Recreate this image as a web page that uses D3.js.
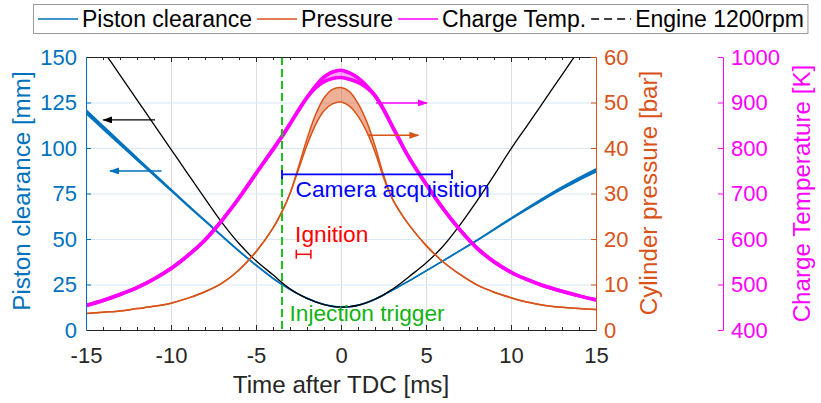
<!DOCTYPE html>
<html><head><meta charset="utf-8">
<script src="https://cdn.jsdelivr.net/npm/d3@7"></script>
<style>body{margin:0;background:#fff}svg{display:block}</style>
</head><body><svg id="c" width="821" height="403"></svg>
<script>
// ---------- data ----------
const timeMs = [-15,-14,-13,-12,-11,-10,-9,-8,-7,-6,-5,-4,
  -3.5,-3,-2.5,-2,-1.5,-1,-0.5,0,0.5,1,1.5,2,2.5,3,3.5,
  4,5,6,7,8,9,10,11,12,13,14,15];
const clearanceMm = [120,111.3,102.6,94,85.4,76.9,68.4,60,51.6,43.4,35.6,28.4,
  25.2,22.3,19.7,17.4,15.5,14,13,12.6,12.8,13.6,15,16.9,19.2,21.8,24.4,
  27,32.5,38,43.6,49.3,55.2,61.2,67,72.6,78,83,87.7];
const clearanceSpread = [1.0,0.9,0.8,0.65,0.5,0.4,0.3,0.2,0.1,0.05,0,0,
  0,0,0,0,0,0,0,0,0,0,0,0,0,0,0,
  0,0,0,0,0.1,0.2,0.3,0.4,0.5,0.6,0.7,0.8];
const engineMm = [167.2,153.6,140.1,126.5,112.9,99.3,85.7,72.2,59.0,47.5,38.0,30.3,
  26.2,22.6,19.7,17.4,15.5,14,13,12.6,12.8,13.6,15,16.9,19.3,22.3,25.6,
  29.3,36.8,46,57.8,71,85,99.5,113,126.6,140.2,153.8,167.4];
const pressureBar = [3.6,3.9,4.2,4.7,5.2,5.9,7.0,8.4,10.3,13.2,17.2,22.4,
  25.8,30.0,35.6,41.3,46.2,49.6,51.3,51.7,50.8,48.4,44.8,39.8,33.8,29.0,25.8,
  23.1,18.6,15.0,12.2,9.9,8.3,7.1,6.1,5.4,5.0,4.7,4.5];
const pressureSpread = [0,0,0,0,0,0,0,0,0,0,0,0,
  0,0,0.3,0.7,1.1,1.4,1.6,1.6,1.6,1.4,1.1,0.7,0.3,0,0,
  0,0,0,0,0,0,0,0,0,0,0,0];
const tempK = [454,465,478,493,512,535,564,598,641,690,744,797,
  824,853,883,911,934,951,960,963,958,949,935,915,885,849,813,
  779,721,667,620,580,550,527,510,496,485,475,466];
const tempSpread = [0,0,0,0,0,0,0,0,0,0,0,0,
  0,0,0,0,2,5,7,8,7,5,2,0,0,0,0,
  0,0,0,0,0,0,0,0,0,0,0,0];

const xTicks = [-15,-10,-5,0,5,10,15];
const xMinorTicks = [-14,-13,-12,-11,-9,-8,-7,-6,-4,-3,-2,-1,1,2,3,4,6,7,8,9,11,12,13,14];
const clearanceTicks = [0,25,50,75,100,125,150];
const pressureTicks = [0,10,20,30,40,50,60];
const tempTicks = [400,500,600,700,800,900,1000];
const legendLabels = ["Piston clearance","Pressure","Charge Temp.","Engine 1200rpm"];

const injectionMs = -3.47;
const cameraWindowMs = [-3.47, 6.53], cameraLevelMm = 85.5;
const ignitionWindowMs = [-2.63, -1.77], ignitionLevelMm = 41.6;
const labelCamera = {text:"Camera acquisition", t:-2.67, v:73.2};
const labelIgnition = {text:"Ignition", t:-2.7, v:48.4};
const labelInjection = {text:"Injection trigger", t:-3.03, v:4.9};
// arrows: [tail time, head time, level]
const arrowEngine = [-10.94, -13.98, 115.4];     // clearance units
const arrowClearance = [-10.55, -13.59, 87.4];   // clearance units
const arrowTemp = [2.06, 5.06, 899];             // K
const arrowPressure = [1.57, 4.55, 42.8];        // bar

// ---------- setup ----------
const FONT = '"Liberation Sans", Arial, Helvetica, sans-serif';
const BLUE = "#0072BD", ORANGE = "#D95319", MAGENTA = "#FF00FF", AXC = "#262626";
const svg = d3.select("#c").attr("font-family", FONT);
const fmt = d => String(d);

const x = d3.scaleLinear().domain([-15,15]).range([86,596]);
const yL = d3.scaleLinear().domain([0,150]).range([330,57]);
const yP = d3.scaleLinear().domain([0,60]).range([330,57]);
const yT = d3.scaleLinear().domain([400,1000]).range([330,57]);

const rows = timeMs.map((t,i)=>({t, c:clearanceMm[i], cs:clearanceSpread[i], e:engineMm[i],
  p:pressureBar[i], ps:pressureSpread[i], T:tempK[i], Ts:tempSpread[i]}));

// grid
const grid = svg.append("g");
grid.selectAll("line.v").data(xTicks.filter(d=>d>-15&&d<15)).join("line")
  .attr("x1",d=>x(d)+0.5).attr("x2",d=>x(d)+0.5).attr("y1",yL(0)).attr("y2",yL(150))
  .attr("stroke","#dedede").attr("stroke-width",1);
grid.selectAll("line.h").data(clearanceTicks.filter(d=>d>0&&d<150)).join("line")
  .attr("x1",x(-15)).attr("x2",x(15)).attr("y1",d=>yL(d)+0.5).attr("y2",d=>yL(d)+0.5)
  .attr("stroke","#d6e8f5").attr("stroke-width",1);

// clip
svg.append("defs").append("clipPath").attr("id","pc").append("rect")
  .attr("x",x(-15)).attr("y",yL(150)).attr("width",x(15)-x(-15)).attr("height",yL(0)-yL(150));
const plot = svg.append("g").attr("clip-path","url(#pc)");

const CURVE = d3.curveCatmullRom.alpha(0.5);
function band(scale, vk, sk, color, width, fo){
  const area = d3.area().x(d=>x(d.t)).y0(d=>scale(d[vk]-d[sk])).y1(d=>scale(d[vk]+d[sk])).curve(CURVE);
  plot.append("path").datum(rows).attr("d",area).attr("fill",color).attr("fill-opacity",fo);
  [1,-1].forEach(s=>{
    const ln = d3.line().x(d=>x(d.t)).y(d=>scale(d[vk]+s*d[sk])).curve(CURVE);
    plot.append("path").datum(rows).attr("d",ln).attr("fill","none").attr("stroke",color).attr("stroke-width",width);
  });
}
band(yL,"c","cs",BLUE,1.6,1);
plot.append("path").datum(rows)
  .attr("d",d3.line().x(d=>x(d.t)).y(d=>yL(d.e)).curve(CURVE))
  .attr("fill","none").attr("stroke","#000").attr("stroke-width",1.3);
band(yP,"p","ps",ORANGE,1.5,0.45);
band(yT,"T","Ts",MAGENTA,3.6,0.35);

// injection trigger line
plot.append("line").attr("x1",x(injectionMs)).attr("x2",x(injectionMs)).attr("y1",yL(150)).attr("y2",yL(0))
  .attr("stroke","#1fbf1f").attr("stroke-width",2).attr("stroke-dasharray","8,4");

// error bars
function hbar(win, level, color, w){
  const g = svg.append("g").attr("stroke",color).attr("stroke-width",w);
  const yy = yL(level);
  g.append("line").attr("x1",x(win[0])).attr("x2",x(win[1])).attr("y1",yy).attr("y2",yy);
  win.forEach(t=>g.append("line").attr("x1",x(t)).attr("x2",x(t)).attr("y1",yy-4.5).attr("y2",yy+4.5));
}
hbar(cameraWindowMs, cameraLevelMm, "#0000FF", 1.8);
hbar(ignitionWindowMs, ignitionLevelMm, "#FF0000", 1.5);

// labels
[[labelCamera,"#0000FF"],[labelIgnition,"#FF0000"],[labelInjection,"#12b312"]].forEach(([l,c])=>{
  svg.append("text").attr("x",x(l.t)).attr("y",yL(l.v)).attr("fill",c).attr("font-size",22.7).text(l.text);
});

// arrows
const defs = svg.select("defs");
function arrow(a, scale, color, w, id){
  defs.append("marker").attr("id",id).attr("viewBox","0 0 10 7").attr("refX",9).attr("refY",3.5)
    .attr("markerWidth",10).attr("markerHeight",7).attr("markerUnits","userSpaceOnUse").attr("orient","auto")
    .append("path").attr("d","M0,0L10,3.5L0,7Z").attr("fill",color);
  svg.append("line").attr("x1",x(a[0])).attr("x2",x(a[1])).attr("y1",scale(a[2])).attr("y2",scale(a[2]))
    .attr("stroke",color).attr("stroke-width",w).attr("marker-end",`url(#${id})`);
}
arrow(arrowEngine, yL, "#000", 1.2, "aK");
arrow(arrowClearance, yL, BLUE, 1.5, "aB");
arrow(arrowTemp, yT, MAGENTA, 1.5, "aM");
arrow(arrowPressure, yP, ORANGE, 1.5, "aO");

// axes
function styleAxis(g, color){
  g.attr("color",color).attr("font-size",22).attr("font-family",FONT);
  g.selectAll("text").attr("fill",color);
}
const gb = svg.append("g").attr("transform","translate(0,330)")
  .call(d3.axisBottom(x).tickValues(xTicks).tickFormat(fmt).tickSize(-5).tickSizeOuter(0).tickPadding(17));
styleAxis(gb, AXC);
gb.selectAll(".tick line").filter(d=>d===-15||d===15).remove();
const gbm = svg.append("g").attr("transform","translate(0,330)")
  .call(d3.axisBottom(x).tickValues(xMinorTicks).tickSize(-3).tickFormat(""));
gbm.attr("color",AXC); gbm.select(".domain").remove();
const gt = svg.append("g").attr("transform","translate(0,57)")
  .call(d3.axisTop(x).tickValues(xTicks.filter(d=>d>-15&&d<15)).tickSize(-5).tickSizeOuter(0).tickFormat(""));
gt.attr("color",AXC);
const gtm = svg.append("g").attr("transform","translate(0,57)")
  .call(d3.axisTop(x).tickValues(xMinorTicks).tickSize(-3).tickFormat(""));
gtm.attr("color",AXC); gtm.select(".domain").remove();
const gl = svg.append("g").attr("transform","translate(86,0)")
  .call(d3.axisLeft(yL).tickValues(clearanceTicks).tickFormat(fmt).tickSize(-5).tickSizeOuter(0).tickPadding(9));
styleAxis(gl, BLUE);
gl.selectAll(".tick line").filter(d=>d===0||d===150).remove();
const gp = svg.append("g").attr("transform","translate(596,0)")
  .call(d3.axisRight(yP).tickValues(pressureTicks).tickFormat(fmt).tickSize(-5).tickSizeOuter(0).tickPadding(8));
styleAxis(gp, ORANGE);
gp.selectAll(".tick line").filter(d=>d===0).remove();
const gT = svg.append("g").attr("transform","translate(723,0)")
  .call(d3.axisRight(yT).tickValues(tempTicks).tickFormat(fmt).tickSize(-5).tickSizeOuter(0).tickPadding(8));
styleAxis(gT, MAGENTA);

// axis titles
svg.append("text").attr("x",341).attr("y",392.5).attr("text-anchor","middle").attr("font-size",24.2)
  .attr("fill",AXC).text("Time after TDC [ms]");
svg.append("text").attr("transform","translate(29.5,191) rotate(-90)").attr("text-anchor","middle")
  .attr("font-size",24.2).attr("fill",BLUE).text("Piston clearance [mm]");
svg.append("text").attr("transform","translate(657,193) rotate(-90)").attr("text-anchor","middle")
  .attr("font-size",24.2).attr("fill",ORANGE).text("Cylinder pressure [bar]");
svg.append("text").attr("transform","translate(810,193.5) rotate(-90)").attr("text-anchor","middle")
  .attr("font-size",24.2).attr("fill",MAGENTA).text("Charge Temperature [K]");

// legend
const lg = svg.append("g");
const box = lg.append("rect").attr("x",33.5).attr("y",4.5).attr("height",29).attr("fill","#fff")
  .attr("stroke","#9a9a9a").attr("stroke-width",1);
const legendStyles = [{c:BLUE,d:null,w:1.6},{c:ORANGE,d:null,w:1.6},{c:MAGENTA,d:null,w:1.6},{c:"#000",d:"8,5",w:1.4}];
let lx = 38, lend = 0;
legendLabels.forEach((lab,i)=>{
  const st = legendStyles[i];
  lg.append("line").attr("x1",lx).attr("x2",lx+40).attr("y1",19).attr("y2",19)
    .attr("stroke",st.c).attr("stroke-width",st.w).attr("stroke-dasharray",st.d);
  const t = lg.append("text").attr("x",lx+44).attr("y",27).attr("font-size",23).attr("fill","#000").text(lab);
  lend = lx + 44 + t.node().getComputedTextLength();
  lx = lend + 5;
});
box.attr("width", lend + 4 - 33.5);
</script></body></html>
